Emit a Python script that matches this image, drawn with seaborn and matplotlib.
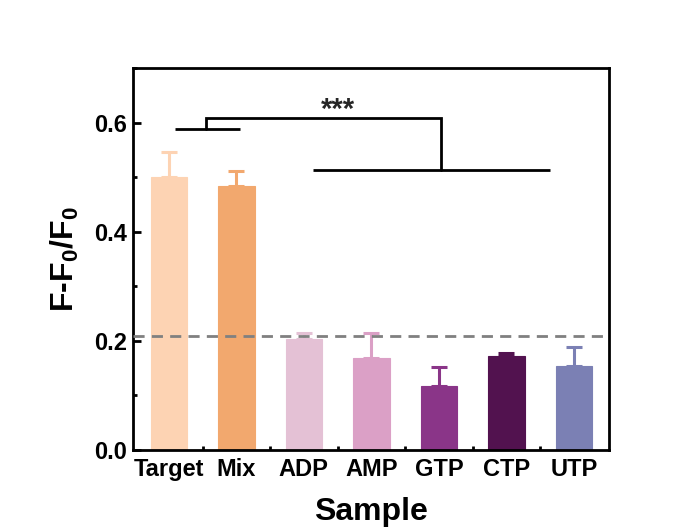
import matplotlib
matplotlib.use("Agg")
import matplotlib.pyplot as plt
from matplotlib.ticker import MultipleLocator, FixedLocator
import seaborn as sns
import pandas as pd
import numpy as np

samples = ["Target", "Mix", "ADP", "AMP", "GTP", "CTP", "UTP"]
values = [0.500, 0.483, 0.204, 0.168, 0.118, 0.172, 0.154]
errors = [0.047, 0.028, 0.011, 0.046, 0.034, 0.005, 0.034]
colors = ["#FDD3B3", "#F2A86E", "#E4C1D5", "#DBA0C6", "#8A3588", "#52124F", "#7B80B4"]
threshold = 0.209
sig_label = "***"

sns.set_theme(style="white")
plt.rcParams["font.family"] = ["Liberation Sans", "DejaVu Sans"]
plt.rcParams["mathtext.fontset"] = "custom"
plt.rcParams["mathtext.bf"] = "Liberation Sans:bold"
plt.rcParams["mathtext.rm"] = "Liberation Sans:bold"

df = pd.DataFrame({"Sample": samples, "Value": values, "Err": errors})

fig = plt.figure(figsize=(6.94, 5.28), dpi=100)
ax = fig.add_axes([0.1916, 0.1477, 0.6859, 0.7235])

sns.barplot(data=df, x="Sample", y="Value", hue="Sample", palette=colors,
            width=0.54, legend=False, ax=ax, saturation=1)
for p, c in zip(ax.patches, colors):
    p.set_edgecolor(c)
    p.set_linewidth(0.8)

xs = np.arange(len(samples))
for x, v, e, c in zip(xs, values, errors, colors):
    ax.errorbar(x, v, yerr=[[0], [e]], fmt="none", ecolor=c, elinewidth=2.2,
                capsize=6, capthick=2.2, zorder=3)

ax.axhline(threshold, color="#808080", ls="--", lw=2.0, dashes=(4, 2.6), zorder=4)

# significance brackets
k = "black"
lw = 2.0
ax.plot([0.09, 1.06], [0.588, 0.588], color=k, lw=lw, solid_capstyle="butt")
ax.plot([0.55, 0.55, 4.03, 4.03], [0.588, 0.609, 0.609, 0.514], color=k, lw=lw,
        solid_joinstyle="miter")
ax.plot([2.13, 5.64], [0.514, 0.514], color=k, lw=lw, solid_capstyle="butt")
ax.text(2.5, 0.598, sig_label, ha="center", va="bottom", fontsize=21, fontweight="bold")

ax.set_xlim(-0.53, 6.52)
ax.set_ylim(0, 0.70)
ax.yaxis.set_major_locator(MultipleLocator(0.2))
ax.yaxis.set_minor_locator(MultipleLocator(0.1))
ax.xaxis.set_minor_locator(FixedLocator(xs[:-1] + 0.5))
ax.set_yticks([0.0, 0.2, 0.4, 0.6])
ax.set_yticklabels(["0.0", "0.2", "0.4", "0.6"])

ax.tick_params(axis="both", which="major", direction="in", length=6, width=2,
               labelsize=17, pad=4, color="black", labelcolor="black")
ax.tick_params(axis="x", which="major", pad=6)
ax.tick_params(axis="both", which="minor", direction="in", length=3, width=2,
               color="black")
ax.tick_params(axis="x", which="both", bottom=True)
ax.tick_params(axis="y", which="both", left=True)
for lab in ax.get_xticklabels() + ax.get_yticklabels():
    lab.set_fontweight("bold")

for s in ax.spines.values():
    s.set_visible(True)
    s.set_color("black")
    s.set_linewidth(2)

ax.set_xlabel("Sample", fontsize=23, fontweight="bold", labelpad=11, color="black")
ax.set_ylabel(r"F-F$_{\mathbf{0}}$/F$_{\mathbf{0}}$", fontsize=23, fontweight="bold",
              labelpad=10, color="black")

fig.savefig("out.png", dpi=100, facecolor="white")
